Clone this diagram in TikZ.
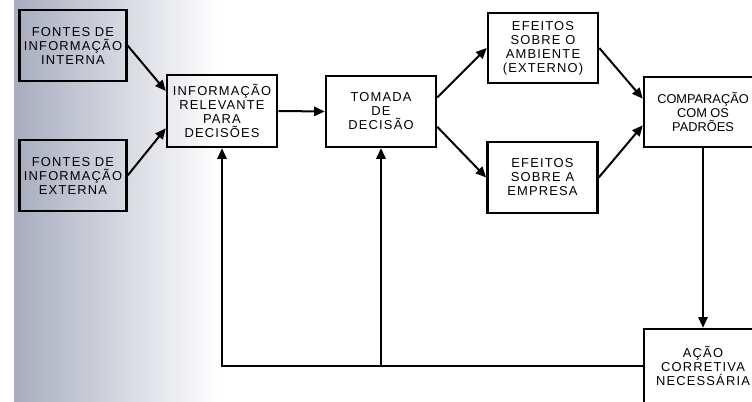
\documentclass[tikz,border=0pt]{standalone}
\usepackage{fontspec}
\setmainfont{Liberation Sans}
\newfontfamily\blocofont[LetterSpace=9]{Liberation Sans}
\usetikzlibrary{arrows.meta}
\definecolor{sombra}{RGB}{168,173,190}

\begin{document}
\begin{tikzpicture}[x=0.75pt,y=-0.75pt,
  bloco/.style={draw,line width=1.9pt,align=center,inner sep=0pt,
    minimum width=82.5pt,minimum height=53pt,
    font=\blocofont\fontsize{9.7}{10.5}\selectfont},
  seta/.style={line width=1.5pt,-{Triangle[length=8pt,width=7pt]}}]
\useasboundingbox (0,0) rectangle (752,402);
\shade[left color=sombra,right color=white] (14,0) rectangle (220,402);

\node[bloco,minimum width=80pt] (FI) at (73,45.5) {FONTES DE\\INFORMAÇÃO\\INTERNA};
\node[bloco,minimum width=80pt] (FE) at (73,175.5) {FONTES DE\\INFORMAÇÃO\\EXTERNA};
\node[bloco,minimum height=54pt] (IR) at (222,111) {INFORMAÇÃO\\RELEVANTE\\PARA\\DECISÕES};
\node[bloco] (TD) at (381,111.5) {TOMADA\\DE\\DECISÃO};
\node[bloco,minimum height=52.5pt] (EA) at (543,48) {EFEITOS\\SOBRE O\\AMBIENTE\\(EXTERNO)};
\node[bloco] (EE) at (542.5,177.5) {EFEITOS\\SOBRE A\\EMPRESA};
\node[bloco,minimum width=88.5pt,minimum height=52.5pt,
  font=\normalfont\fontsize{9.6}{10.5}\selectfont] (CP) at (703,112) {COMPARAÇÃO\\COM OS\\PADRÕES};
\node[bloco,minimum width=88.5pt,minimum height=55.5pt] (AC) at (703,366) {AÇÃO\\CORRETIVA\\NECESSÁRIA};
\coordinate (ramo) at (TD.south |- AC.west);

\draw[seta] (FI.east) -- ([yshift=15pt]IR.west);
\draw[seta] (FE.east) -- ([yshift=-13pt]IR.west);
\draw[seta] (IR.east) -- (TD.west);
\draw[seta] ([yshift=10.5pt]TD.east) -- (EA.west);
\draw[seta] ([yshift=-11.5pt]TD.east) -- (EE.west);
\draw[seta] (EA.east) -- ([yshift=10pt]CP.west);
\draw[seta] (EE.east) -- ([yshift=-10pt]CP.west);
\draw[seta] (CP.south) -- (AC.north);
\draw[seta] (AC.west) -| (IR.south);
\draw[seta] (ramo) -- (TD.south);
\end{tikzpicture}
\end{document}
